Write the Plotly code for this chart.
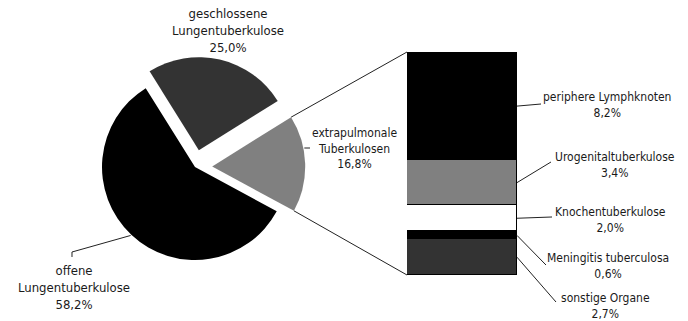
import math
import plotly.graph_objects as go

W, H = 688, 321

# Main pie: share of tuberculosis forms
pie_labels = ["geschlossene<br>Lungentuberkulose", "extrapulmonale<br>Tuberkulosen", "offene<br>Lungentuberkulose"]
pie_values = [25.0, 16.8, 58.2]
pie_colors = ["#333333", "#808080", "#000000"]
pie_pull = [0.185, 0.185, 0.0]

# Breakdown of the extrapulmonary slice (top to bottom in the bar)
bar_labels = ["periphere Lymphknoten", "Urogenitaltuberkulose", "Knochentuberkulose",
              "Meningitis tuberculosa", "sonstige Organe"]
bar_values = [8.2, 3.4, 2.0, 0.6, 2.7]
bar_colors = ["#000000", "#808080", "#ffffff", "#000000", "#333333"]

FONT = "DejaVu Sans Condensed, DejaVu Sans, sans-serif"
TXT = "#1a1a1a"


def pct(v):
    return f"{v:.1f}%".replace(".", ",")


# geometry in pixels
PIE_CX, PIE_CY, PIE_R = 195, 167, 93
ROTATION = -32
BAR_X0, BAR_X1, BAR_Y0, BAR_Y1 = 407, 517, 52, 275

max_pull = max(pie_pull)
box = 2 * PIE_R * (1 + max_pull)
pie_dom_x = [(PIE_CX - box / 2) / W, (PIE_CX + box / 2) / W]
pie_dom_y = [1 - (PIE_CY + box / 2) / H, 1 - (PIE_CY - box / 2) / H]


def px(x):
    return x / W


def py(y):
    return 1 - y / H


# slice angles, clockwise from 12 o'clock
total = sum(pie_values)
angles = []
cum = ROTATION
for v in pie_values:
    a0 = cum
    a1 = cum + v / total * 360
    angles.append((a0, a1))
    cum = a1


def slice_center(i):
    a0, a1 = angles[i]
    mid = math.radians((a0 + a1) / 2)
    d = pie_pull[i] * PIE_R
    return PIE_CX + d * math.sin(mid), PIE_CY - d * math.cos(mid)


def on_arc(i, deg, rr=PIE_R):
    cx, cy = slice_center(i)
    t = math.radians(deg)
    return cx + rr * math.sin(t), cy - rr * math.cos(t)


fig = go.Figure()

fig.add_trace(go.Pie(
    labels=[l.replace("<br>", " ") for l in pie_labels],
    values=pie_values,
    marker=dict(colors=pie_colors, line=dict(width=0)),
    pull=pie_pull,
    sort=False,
    direction="clockwise",
    rotation=ROTATION,
    textinfo="none",
    hoverinfo="label+percent",
    domain=dict(x=pie_dom_x, y=pie_dom_y),
    showlegend=False,
))

# stacked bar, bottom segment first
bar_total = sum(bar_values)
for i in reversed(range(len(bar_values))):
    fig.add_trace(go.Bar(
        x=[0], y=[bar_values[i]], width=[1],
        marker=dict(color=bar_colors[i], line=dict(color="#000000", width=1)),
        name=bar_labels[i], showlegend=False,
    ))

shapes = []
annotations = []


def seg(points, color="#222222", width=1):
    path = "M " + " L ".join(f"{px(x):.5f},{py(y):.5f}" for x, y in points)
    shapes.append(dict(type="path", path=path, xref="paper", yref="paper",
                       line=dict(color=color, width=width), layer="above"))


# connectors from the extrapulmonary slice to the bar
EXTRA = 1
up = on_arc(EXTRA, angles[EXTRA][0])
lo = on_arc(EXTRA, angles[EXTRA][1])
seg([up, (BAR_X0, BAR_Y0)])
seg([lo, (BAR_X0, BAR_Y1)])

# pie labels
pie_label_pos = [(228, 30), (354, 149), (74, 287)]
pie_label_size = [13, 12, 13]
for i, (lab, v) in enumerate(zip(pie_labels, pie_values)):
    x, y = pie_label_pos[i]
    annotations.append(dict(
        x=px(x), y=py(y), xref="paper", yref="paper",
        text=f"{lab}<br>{pct(v)}", showarrow=False,
        xanchor="center", yanchor="middle", align="center",
        font=dict(family=FONT, size=pie_label_size[i], color=TXT),
    ))

# leader for the open pulmonary slice
OPEN = 2
a0, a1 = angles[OPEN]
start = on_arc(OPEN, (a0 + a1) / 2, PIE_R + 1)
seg([start, (72, 252), (72, 257)])

# leader for the extrapulmonary slice
ecx, ecy = slice_center(EXTRA)
ly = 148
t = math.acos((ecy - ly) / PIE_R)
seg([(ecx + PIE_R * math.sin(t) + 1, ly), (310, ly)])

# bar labels and leaders
bar_label_pos = [(607, 105), (615, 165), (610, 220), (608, 266), (605, 306)]
leader_end = [(541, 104), (551, 162), (552, 217), (546, 265), (556, 302)]
scale = (BAR_Y1 - BAR_Y0) / bar_total
top = 0.0
for i, v in enumerate(bar_values):
    mid_val = top + v / 2
    ymid = BAR_Y0 + mid_val * scale
    top += v
    seg([(BAR_X1, ymid), leader_end[i]])
    x, y = bar_label_pos[i]
    annotations.append(dict(
        x=px(x), y=py(y), xref="paper", yref="paper",
        text=f"{bar_labels[i]}<br>{pct(v)}", showarrow=False,
        xanchor="center", yanchor="middle", align="center",
        font=dict(family=FONT, size=12, color=TXT),
    ))

fig.update_layout(
    width=W, height=H,
    margin=dict(l=0, r=0, t=0, b=0),
    paper_bgcolor="#ffffff", plot_bgcolor="rgba(0,0,0,0)",
    barmode="stack", bargap=0,
    xaxis=dict(domain=[px(BAR_X0), px(BAR_X1)], range=[-0.5, 0.5],
               visible=False, fixedrange=True),
    yaxis=dict(domain=[py(BAR_Y1), py(BAR_Y0)], range=[0, bar_total],
               visible=False, fixedrange=True),
    shapes=shapes,
    annotations=annotations,
)

fig.write_html("out.html")
